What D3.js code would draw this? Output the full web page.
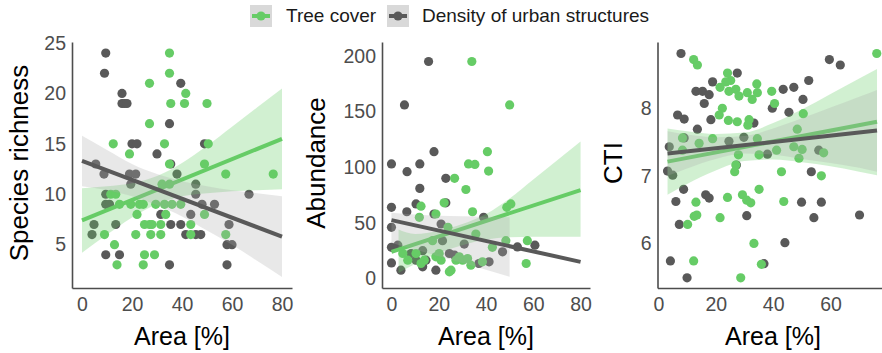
<!DOCTYPE html>
<html>
<head>
<meta charset="utf-8">
<script src="https://cdn.jsdelivr.net/npm/d3@7"></script>
<style>
  body { margin: 0; background: #fff; }
  svg { display: block; font-family: 'Liberation Sans', Arial, sans-serif; }
</style>
</head>
<body>
<svg id="chart" width="882" height="353"></svg>
<script>
// ---- data: [area %, value] ----
const richnessTree = [[35,24],[35,22],[27,21],[41.5,20],[35.5,19],[41,19],[50,19],[27,17],[12.5,15],[33,15],[50.5,15],[19,14],[35,13],[49,13],[57.5,12],[76.5,12],[32,11],[35,11],[11.5,10],[13.5,10],[15,9],[19.5,9],[23,9],[24.5,9],[29.5,9],[33,9],[36,9],[39.5,9],[22,8],[33.5,8],[49,8],[25,7],[27,7],[28,7],[31.5,7],[43.5,7],[9,6],[21.5,6],[27.5,6],[31.5,6],[43.5,6],[57.5,6],[13,5],[25,4],[29,4],[14,3],[24.5,3]]
const richnessUrban = [[9.5,24],[9,22],[39.5,21],[16,20],[16,19],[17,19],[18,19],[35,17],[20,15],[22,15],[30,14],[49,15],[35.5,13],[5.5,13],[8.8,12],[38,12],[19,12],[21.5,12],[19.5,11],[45.5,11],[45.5,10],[66.8,10],[9.5,10],[9.5,9],[11,9],[48,9],[53,9],[31.5,8],[43.5,8],[58.8,7],[4.8,7],[4,6],[13.5,7],[35.5,7],[39.5,7],[41.5,6],[45.5,6],[47.5,6],[58,5],[60,5],[9.5,4],[15,4],[35,3],[58,3]]

const abundanceTree = [[34,195],[50,156],[40.6,114],[32.6,103],[35.3,102.5],[41.1,96.5],[26.7,90],[31.5,80],[22.3,68],[12.5,65],[18.8,58],[34.3,60],[48.8,64],[50.5,67],[57.5,34],[57,13.5],[48.4,34],[23.9,46],[17.4,34],[10.4,22.5],[13.9,16.5],[12.5,13.5],[18.8,19.5],[21,16.5],[20.2,22.5],[25.2,7.5],[24.5,6],[27.3,16.5],[28.7,19.5],[30.1,16.5],[33.6,12],[32.2,18],[38.5,15],[4.8,22.5],[6.9,16.5],[35.7,40],[42.7,28],[11.8,55]]
const abundanceUrban = [[15.7,195],[5.5,156],[18,114],[0,103],[12,103],[6.6,96],[23,90],[12,81],[0,64],[10.4,67],[23,68],[18,58],[6.5,60],[0,46],[39,55],[0,28],[2.7,30],[0,14],[4,7.5],[10.4,16.5],[18.8,7.5],[24.5,22.5],[37,13.5],[53.3,28.4],[60.7,30],[21.6,34],[13.2,25],[41.3,15],[47,24],[8.3,22.5],[14.6,16.5],[21,49],[30.8,31],[13.2,10.5],[26.7,21]]

const ctiTree = [[76.1,8.81],[12.3,8.72],[13.6,8.64],[24.1,8.52],[25.2,8.41],[23.5,8.39],[21.5,8.31],[24.6,8.25],[27,8.28],[28.1,8.18],[31,8.23],[34.3,8.36],[32.7,8.13],[34.5,8.23],[39.5,8.25],[40.5,8.07],[22.3,8.0],[21.2,7.9],[24.4,7.82],[27.5,7.8],[31.6,7.83],[31.2,7.75],[50.5,7.92],[48.4,7.69],[8.4,7.56],[14.2,7.48],[18.9,7.55],[34.5,7.55],[41.2,7.38],[47.2,7.43],[50.1,7.39],[49,7.26],[57.6,7.34],[27.9,7.31],[35.1,7.31],[8.4,7.38],[26.6,7.06],[27,7.16],[42.9,7.06],[56.8,7.0],[35.1,6.8],[24.1,6.68],[29.3,6.72],[30.8,6.64],[32.2,6.6],[43.7,6.62],[13.1,6.61],[12.5,6.4],[13.4,6.42],[21.5,6.38],[10.2,6.28],[33.3,6.0],[12.3,5.74],[35.9,5.69],[28.7,5.49]]
const ctiUrban = [[7.9,8.81],[59.6,8.72],[63.4,8.64],[27.5,8.52],[18.9,8.39],[52.4,8.41],[13.1,8.25],[15.4,8.25],[17.7,8.2],[43.5,8.28],[47.2,8.31],[50.4,8.13],[16,8.07],[39.7,8.0],[6.7,7.9],[9,7.84],[18.3,7.83],[45.5,7.94],[33.3,7.78],[13.6,7.69],[9,7.56],[3.8,7.43],[24.6,7.51],[29.8,7.57],[38,7.32],[55.9,7.38],[27.2,7.16],[3.2,7.07],[5,7.01],[53.3,7.06],[8.8,6.8],[16.5,6.72],[17.7,6.67],[6.1,6.62],[49.9,6.61],[56.8,6.61],[30.8,6.41],[54.2,6.38],[70.1,6.42],[7.3,6.28],[44.1,6.01],[4.2,5.74],[36.8,5.7],[10,5.49]]

// fitted lines [x, y] and confidence bands [x, lower, upper]
const richnessTreeFit = [[0,7.4],[80,15.5]]
const richnessUrbanFit = [[0,13.3],[80,5.8]]
const richnessTreeBand = [[0,4.2,10.6],[10,6.0,10.8],[20,7.7,11.1],[30,9.0,11.8],[40,9.8,13.1],[50,10.1,14.8],[60,10.3,16.7],[70,10.4,18.6],[80,10.5,20.5]]
const richnessUrbanBand = [[0,10.8,15.8],[10,10.4,14.4],[20,9.8,13.0],[30,8.9,12.0],[40,7.8,11.3],[50,6.4,10.8],[60,5.0,10.4],[70,3.4,10.1],[80,1.8,9.8]]

const abundanceTreeFit = [[0,24],[80,79.5]]
const abundanceUrbanFit = [[0,52.5],[80,15]]
const abundanceTreeBand = [[3,5,44],[10,13,40],[20,23,43],[30,30,49],[40,35,58],[50,37,72],[60,37.5,89],[70,37.5,106],[80,37.5,123]]
const abundanceUrbanBand = [[0,32,59],[10,26,57.5],[20,20,56.5],[30,14,56],[40,8,55.5],[50,1.5,55]]

const ctiTreeFit = [[3.2,7.21],[76.2,7.8]]
const ctiUrbanFit = [[3.2,7.33],[76.2,7.67]]
const ctiTreeBand = [[3.2,6.72,7.70],[10,6.88,7.66],[20,7.08,7.62],[30,7.22,7.64],[40,7.24,7.78],[50,7.20,7.98],[60,7.14,8.21],[70,7.06,8.44],[76.2,7.01,8.58]]
const ctiUrbanBand = [[3.2,7.00,7.66],[10,7.11,7.61],[20,7.25,7.57],[30,7.33,7.59],[40,7.31,7.70],[50,7.25,7.85],[60,7.19,8.01],[70,7.12,8.17],[76.2,7.06,8.27]]

const areaTicks = [0, 20, 40, 60, 80]
const richnessTicks = [5, 10, 15, 20, 25]
const abundanceTicks = [0, 50, 100, 150, 200]
const ctiTicks = [6, 7, 8]

const legendLabels = ['Tree cover', 'Density of urban structures']

const treeColor = '#66cc66'
const urbanColor = '#595959'

class SmoothPanel {

    constructor(_config, _series) {
        this.config = {
            parentElement: _config.parentElement,
            left: _config.left,
            right: _config.right,
            top: 42,
            bottom: 288,
            xDomain: _config.xDomain,
            yDomain: _config.yDomain,
            xTicks: _config.xTicks,
            yTicks: _config.yTicks,
            yTitle: _config.yTitle,
            yTitleX: _config.yTitleX
        }
        this.series = _series
        this.initVis()
    }

    initVis() {
        let vis = this
        let c = vis.config

        vis.g = d3.select(c.parentElement).append('g')

        vis.xScale = d3.scaleLinear().domain(c.xDomain).range([c.left, c.right])
        vis.yScale = d3.scaleLinear().domain(c.yDomain).range([c.bottom, c.top])

        vis.xAxis = d3.axisBottom(vis.xScale).tickValues(c.xTicks).tickSize(0).tickSizeOuter(0).tickPadding(9)
        vis.yAxis = d3.axisLeft(vis.yScale).tickValues(c.yTicks).tickSize(0).tickSizeOuter(0).tickPadding(6)
            .tickFormat(d3.format('d'))

        vis.pointLayer = vis.g.append('g')
        vis.smoothLayer = vis.g.append('g')

        vis.xAxisGroup = vis.g.append('g')
            .attr('class', 'axis x-axis')
            .attr('transform', `translate(0, ${c.bottom})`)
        vis.yAxisGroup = vis.g.append('g')
            .attr('class', 'axis y-axis')
            .attr('transform', `translate(${c.left}, 0)`)

        vis.g.append('text')
            .attr('x', (c.left + c.right) / 2)
            .attr('y', 345)
            .attr('text-anchor', 'middle')
            .attr('font-size', 25)
            .attr('fill', '#000')
            .text('Area [%]')

        vis.g.append('text')
            .attr('transform', `translate(${c.yTitleX}, 163) rotate(-90)`)
            .attr('text-anchor', 'middle')
            .attr('font-size', 26)
            .attr('fill', '#000')
            .text(c.yTitle)
    }

    renderVis() {
        let vis = this

        // points first, smooths painted on top (as in ggplot)
        vis.series.forEach(s => {
            vis.pointLayer.selectAll(`.pt-${s.key}`)
                .data(s.points)
                .join('circle')
                    .attr('class', `pt-${s.key}`)
                    .attr('cx', d => vis.xScale(d[0]))
                    .attr('cy', d => vis.yScale(d[1]))
                    .attr('r', 4.6)
                    .attr('fill', s.color)
        })

        let area = d3.area()
            .x(d => vis.xScale(d[0]))
            .y0(d => vis.yScale(d[1]))
            .y1(d => vis.yScale(d[2]))
            .curve(d3.curveMonotoneX)

        let line = d3.line()
            .x(d => vis.xScale(d[0]))
            .y(d => vis.yScale(d[1]))

        // tree smooth first, urban smooth over it
        vis.series.slice().reverse().forEach(s => {
            vis.smoothLayer.append('path')
                .attr('d', area(s.band))
                .attr('fill', s.bandFill)
                .attr('fill-opacity', s.bandOpacity)
            vis.smoothLayer.append('path')
                .attr('d', line(s.fit))
                .attr('fill', 'none')
                .attr('stroke', s.color)
                .attr('stroke-width', 4)
        })

        vis.xAxisGroup.call(vis.xAxis)
        vis.yAxisGroup.call(vis.yAxis)

        vis.g.selectAll('.axis .domain')
            .attr('stroke', '#4d4d4d')
            .attr('stroke-width', 1.6)
        vis.g.selectAll('.axis text')
            .attr('font-size', 19.5)
            .attr('font-family', null)
            .attr('fill', '#4d4d4d')
    }
}

function makeSeries(tree, urban, treeFit, urbanFit, treeBand, urbanBand) {
    return [
        { key: 'urban', points: urban, fit: urbanFit, band: urbanBand, color: urbanColor, bandFill: '#aaaaaa', bandOpacity: 0.27 },
        { key: 'tree', points: tree, fit: treeFit, band: treeBand, color: treeColor, bandFill: treeColor, bandOpacity: 0.3 }
    ]
}

const panels = [
    new SmoothPanel({ parentElement: '#chart', left: 72, right: 292, xDomain: [-4, 84], yDomain: [0.7, 25.1],
        xTicks: areaTicks, yTicks: richnessTicks, yTitle: 'Species richness', yTitleX: 28 },
        makeSeries(richnessTree, richnessUrban, richnessTreeFit, richnessUrbanFit, richnessTreeBand, richnessUrbanBand)),
    new SmoothPanel({ parentElement: '#chart', left: 382, right: 590, xDomain: [-4, 84], yDomain: [-8.5, 212.5],
        xTicks: areaTicks, yTicks: abundanceTicks, yTitle: 'Abundance', yTitleX: 325 },
        makeSeries(abundanceTree, abundanceUrban, abundanceTreeFit, abundanceUrbanFit, abundanceTreeBand, abundanceUrbanBand)),
    new SmoothPanel({ parentElement: '#chart', left: 657.5, right: 888.5, xDomain: [-0.3, 80.2], yDomain: [5.34, 8.98],
        xTicks: areaTicks.slice(0, 4), yTicks: ctiTicks, yTitle: 'CTI', yTitleX: 622 },
        makeSeries(ctiTree, ctiUrban, ctiTreeFit, ctiUrbanFit, ctiTreeBand, ctiUrbanBand))
]
panels.forEach(p => p.renderVis())

// legend
const legend = d3.select('#chart').append('g')
const legendKeys = [
    { label: legendLabels[0], color: treeColor, x: 250, textX: 286 },
    { label: legendLabels[1], color: urbanColor, x: 387, textX: 422 }
]
legendKeys.forEach(k => {
    legend.append('rect')
        .attr('x', k.x).attr('y', 5)
        .attr('width', 22).attr('height', 22)
        .attr('fill', '#d9d9d9')
    legend.append('line')
        .attr('x1', k.x + 2).attr('x2', k.x + 20)
        .attr('y1', 16).attr('y2', 16)
        .attr('stroke', k.color).attr('stroke-width', 4)
    legend.append('circle')
        .attr('cx', k.x + 11).attr('cy', 16).attr('r', 4.6)
        .attr('fill', k.color)
    legend.append('text')
        .attr('x', k.textX).attr('y', 22)
        .attr('font-size', 19)
        .attr('fill', '#1a1a1a')
        .text(k.label)
})
</script>
</body>
</html>
